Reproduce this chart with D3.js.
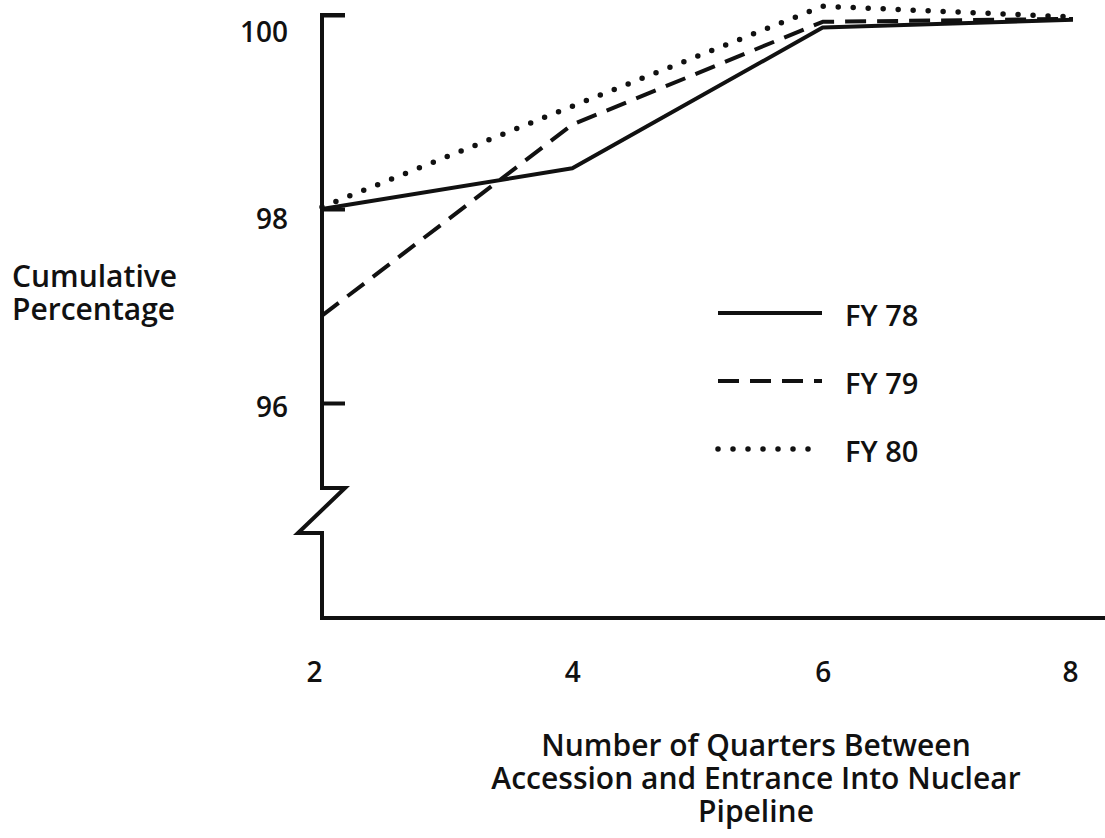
<!DOCTYPE html>
<html>
<head>
<meta charset="utf-8">
<script src="https://cdn.jsdelivr.net/npm/d3@7"></script>
<style>
  html, body { margin: 0; padding: 0; background: #fff; }
  svg text { font-family: "Open Sans", "Noto Sans", sans-serif; font-weight: 600; fill: #111; }
</style>
</head>
<body>
<div id="chart"></div>
<script>
// Values
const quarters = [2, 4, 6, 8];
const fy78 = [98.0, 98.42, 99.87, 99.95];
const fy79 = [96.9, 98.87, 99.93, 99.96];
const fy80 = [98.02, 99.06, 100.09, 99.98];
const yTicks = [96, 98, 100];
const seriesNames = ['FY 78', 'FY 79', 'FY 80'];

const width = 1105, height = 838;
const ink = '#111';

const svg = d3.select('#chart')
  .append('svg')
  .attr('width', width)
  .attr('height', height);

// Scales
const x = d3.scaleLinear().domain([2, 8]).range([322, 1073]);
const y = d3.scaleLinear().domain([96, 100]).range([403, 15]);

const axisX = x(2);
const baseY = 618;       // x-axis line sits below the broken part of the y axis
const breakTop = y(96) + 85;
const breakBot = y(96) + 130;

// Y axis line with the break zigzag
svg.append('path')
  .attr('d', d3.line()([
    [axisX + 23, y(100)],
    [axisX, y(100)],
    [axisX, breakTop],
    [axisX + 23, breakTop],
    [axisX - 24, breakBot],
    [axisX, breakBot],
    [axisX, baseY],
    [width, baseY]
  ]))
  .attr('fill', 'none')
  .attr('stroke', ink)
  .attr('stroke-width', 4)
  .attr('stroke-linejoin', 'miter');

// Y ticks (inward) and labels, labels sit a little below their ticks as in the scan
const gy = svg.append('g')
  .attr('transform', `translate(${axisX},0)`)
  .call(d3.axisLeft(y).tickValues(yTicks).tickSize(-23).tickPadding(34).tickFormat(d3.format('d')));
gy.select('.domain').remove();
gy.selectAll('line').attr('stroke', ink).attr('stroke-width', 4);
gy.selectAll('text')
  .attr('font-size', 28)
  .attr('dy', d => d === 100 ? '0.95em' : d === 98 ? '0.68em' : '0.48em');

// X tick labels
const gx = svg.append('g')
  .attr('transform', `translate(0,${baseY})`)
  .call(d3.axisBottom(x).tickValues(quarters).tickSize(0).tickPadding(44).tickFormat(d3.format('d')));
gx.select('.domain').remove();
gx.selectAll('text')
  .attr('font-size', 28)
  .attr('dx', d => d === 2 ? -8 : d === 8 ? -3 : 0);

// Axis titles
svg.append('text')
  .attr('font-size', 30)
  .selectAll('tspan')
  .data(['Cumulative', 'Percentage'])
  .join('tspan')
  .attr('x', 12)
  .attr('y', (d, i) => 287 + i * 33)
  .text(d => d);

svg.append('text')
  .attr('text-anchor', 'middle')
  .attr('font-size', 30)
  .selectAll('tspan')
  .data(['Number of Quarters Between', 'Accession and Entrance Into Nuclear', 'Pipeline'])
  .join('tspan')
  .attr('x', 756)
  .attr('y', (d, i) => 756 + i * 33)
  .text(d => d);

// Lines
const styles = [
  { dash: null, width: 4, cap: 'butt' },
  { dash: '21,11', width: 4, cap: 'butt' },
  { dash: '0,15', width: 5.5, cap: 'round' }
];
const series = [fy78, fy79, fy80];

const line = d3.line()
  .x((d, i) => x(quarters[i]))
  .y(d => y(d));

svg.selectAll('.series')
  .data(series)
  .join('path')
  .attr('class', 'series')
  .attr('d', d => line(d))
  .attr('fill', 'none')
  .attr('stroke', ink)
  .attr('stroke-width', (d, i) => styles[i].width)
  .attr('stroke-dasharray', (d, i) => styles[i].dash)
  .attr('stroke-linecap', (d, i) => styles[i].cap)
  .attr('stroke-linejoin', 'round');

// Legend
const legend = svg.append('g').attr('transform', 'translate(718,313)');
const item = legend.selectAll('g')
  .data(seriesNames)
  .join('g')
  .attr('transform', (d, i) => `translate(0,${i * 68})`);
item.append('line')
  .attr('x1', 0).attr('x2', 104)
  .attr('stroke', ink)
  .attr('stroke-width', (d, i) => styles[i].width)
  .attr('stroke-dasharray', (d, i) => styles[i].dash)
  .attr('stroke-linecap', (d, i) => styles[i].cap);
item.append('text')
  .attr('x', 127)
  .attr('y', 13)
  .attr('font-size', 29)
  .text(d => d);
</script>
</body>
</html>
